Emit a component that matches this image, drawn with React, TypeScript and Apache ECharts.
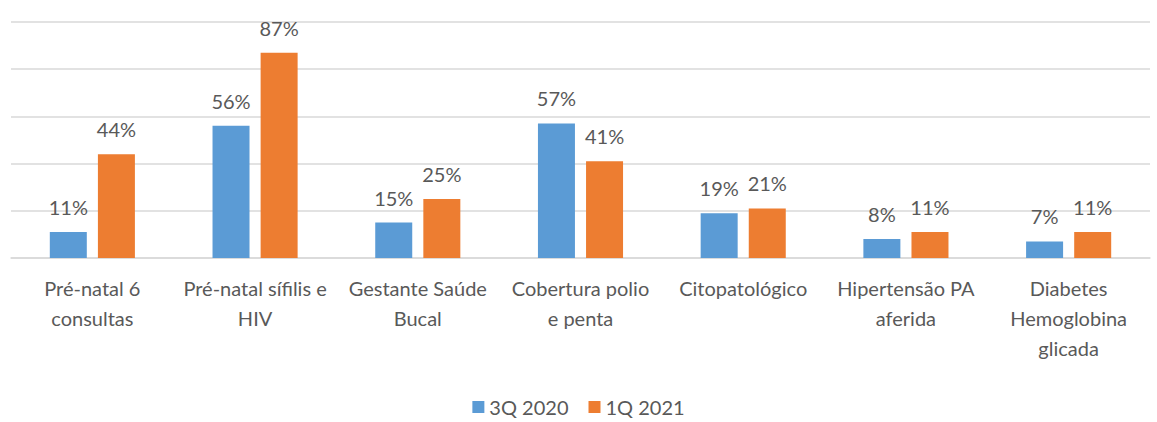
import React, { useEffect, useRef } from "react";
import * as echarts from "echarts";

const categories = [
  "Pré-natal 6 consultas",
  "Pré-natal sífilis e HIV",
  "Gestante Saúde Bucal",
  "Cobertura polio e penta",
  "Citopatológico",
  "Hipertensão PA aferida",
  "Diabetes Hemoglobina glicada",
];
const categoryLines = [
  "Pré-natal 6\nconsultas",
  "Pré-natal sífilis e\nHIV",
  "Gestante Saúde\nBucal",
  "Cobertura polio\ne penta",
  "Citopatológico",
  "Hipertensão PA\naferida",
  "Diabetes\nHemoglobina\nglicada",
];
const series3Q2020 = [11, 56, 15, 57, 19, 8, 7];
const series1Q2021 = [44, 87, 25, 41, 21, 11, 11];
const seriesNames = ["3Q 2020", "1Q 2021"];

const FONT = "Lato, 'Open Sans', sans-serif";
const TEXT = "#595959";

export default function App() {
  const ref = useRef<HTMLDivElement>(null);
  useEffect(() => {
    if (!ref.current) return;
    const chart = echarts.init(ref.current, undefined, { renderer: "svg" });
    const label = {
      show: true,
      position: "top" as const,
      distance: 15,
      formatter: "{c}%",
      color: TEXT,
      fontSize: 20,
      fontFamily: FONT,
    };
    chart.setOption({
      animation: false,
      textStyle: { fontFamily: FONT },
      legend: {
        data: seriesNames,
        top: 396,
        left: "center",
        itemWidth: 12,
        itemHeight: 12,
        itemGap: 20,
        padding: 0,
        icon: "rect",
        textStyle: { color: TEXT, fontSize: 20, fontFamily: FONT, lineHeight: 22 },
      },
      grid: { left: 11, right: 7, top: 22, bottom: 164, containLabel: false },
      xAxis: {
        type: "category",
        data: categories,
        axisTick: { show: false },
        axisLine: { lineStyle: { color: "#D9D9D9", width: 1.5 } },
        axisLabel: {
          color: TEXT,
          fontSize: 20,
          fontFamily: FONT,
          lineHeight: 30,
          margin: 15,
          interval: 0,
          formatter: (_v: string, i: number) => categoryLines[i],
        },
      },
      yAxis: {
        type: "value",
        min: 0,
        max: 100,
        interval: 20,
        axisLabel: { show: false },
        axisLine: { show: false },
        axisTick: { show: false },
        splitLine: { lineStyle: { color: "#D9D9D9", width: 1.5 } },
      },
      series: [
        {
          name: seriesNames[0],
          type: "bar",
          data: series3Q2020,
          barWidth: 37,
          barGap: "30%",
          itemStyle: { color: "#5B9BD5" },
          label,
        },
        {
          name: seriesNames[1],
          type: "bar",
          data: series1Q2021,
          barWidth: 37,
          itemStyle: { color: "#ED7D31" },
          label,
        },
      ],
    });
    return () => chart.dispose();
  }, []);
  return (
    <div
      ref={ref}
      style={{ position: "fixed", left: 0, top: 0, width: 1157, height: 422, background: "#fff" }}
    />
  );
}
